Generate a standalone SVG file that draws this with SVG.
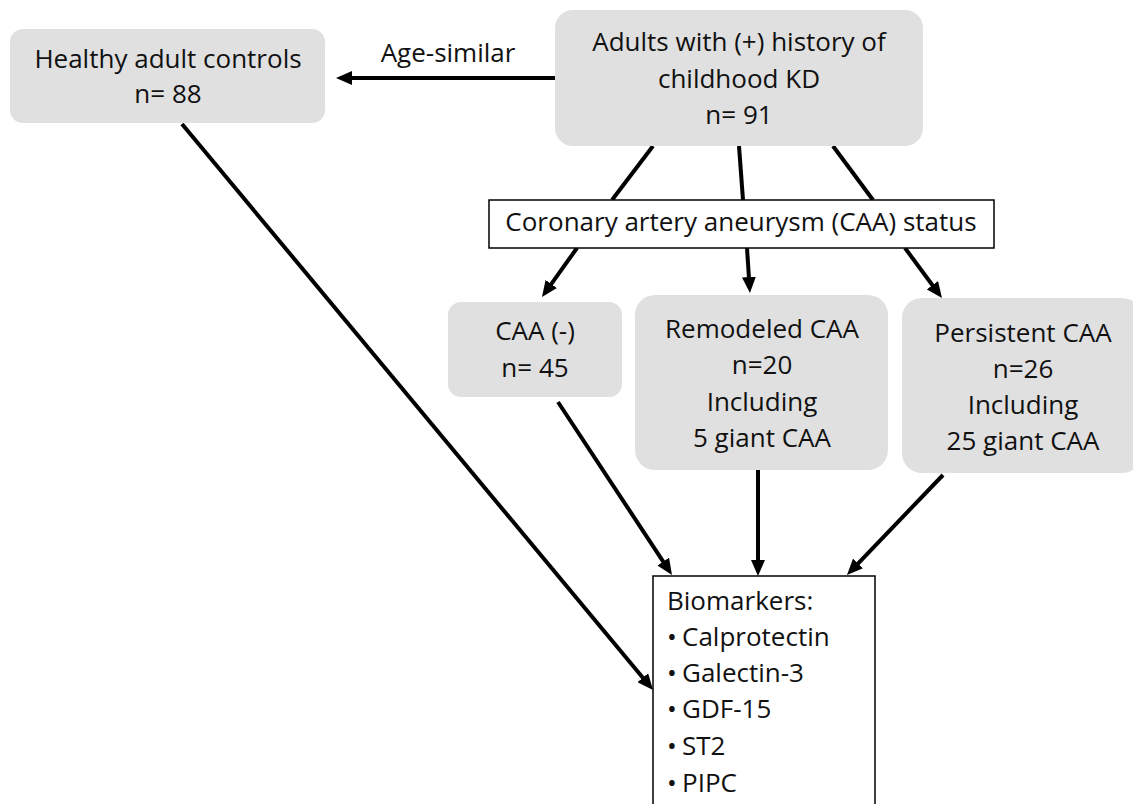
<svg xmlns="http://www.w3.org/2000/svg" width="1133" height="804" viewBox="0 0 1133 804">
<style>
  text { font-family: "Open Sans", "Liberation Sans", sans-serif; font-size: 26px; fill: #111; }
  .c { text-anchor: middle; }
  .g { fill: #e0e0e0; stroke: none; }
  .w { fill: #ffffff; stroke: #000; stroke-width: 1.5; }
  .ln { stroke: #000; stroke-width: 4; fill: none; }
  .ar { marker-end: url(#ah); }
</style>
<defs>
  <marker id="ah" markerUnits="userSpaceOnUse" markerWidth="16" markerHeight="14" refX="6" refY="7" orient="auto">
    <path d="M0,0 L16,7 L0,14 z" fill="#000"/>
  </marker>
</defs>
<rect width="1133" height="804" fill="#fff"/>

<g id="connectors">
  <line class="ln ar" x1="555" y1="78" x2="346" y2="78"/>
  <line class="ln" x1="653" y1="146" x2="612" y2="200"/>
  <line class="ln" x1="739" y1="146" x2="743" y2="200"/>
  <line class="ln" x1="833" y1="146" x2="873" y2="200"/>
  <line class="ln ar" x1="577" y1="248" x2="547.8" y2="288.9"/>
  <line class="ln ar" x1="747" y1="248" x2="749.3" y2="283"/>
  <line class="ln ar" x1="905" y1="248" x2="936" y2="290"/>
  <line class="ln ar" x1="558" y1="402" x2="666.5" y2="566.6"/>
  <line class="ln ar" x1="758" y1="470" x2="758" y2="566"/>
  <line class="ln ar" x1="943" y1="475" x2="853.9" y2="567.8"/>
  <line class="ln ar" x1="182" y1="124" x2="646.6" y2="682.3"/>
</g>
<text x="448" y="62" class="c">Age-similar</text>

<g id="healthy">
  <rect class="g" x="10" y="29" width="315" height="94" rx="13"/>
  <text x="168" y="68" class="c">Healthy adult controls</text>
  <text x="168" y="103" class="c">n= 88</text>
</g>

<g id="kd">
  <rect class="g" x="555" y="10" width="368" height="136" rx="18"/>
  <text x="739" y="51" class="c">Adults with (+) history of</text>
  <text x="739" y="88" class="c">childhood KD</text>
  <text x="739" y="124" class="c">n= 91</text>
</g>

<g id="caa-status">
  <rect class="w" x="489" y="200" width="505" height="48"/>
  <text x="741" y="231" class="c">Coronary artery aneurysm (CAA) status</text>
</g>

<g id="caa-neg">
  <rect class="g" x="448" y="302" width="174" height="95" rx="13"/>
  <text x="535" y="340" class="c">CAA (-)</text>
  <text x="535" y="377" class="c">n= 45</text>
</g>

<g id="remodeled">
  <rect class="g" x="635" y="295" width="253" height="175" rx="20"/>
  <text x="762" y="338" class="c">Remodeled CAA</text>
  <text x="762" y="374" class="c">n=20</text>
  <text x="762" y="411" class="c">Including</text>
  <text x="762" y="447" class="c">5 giant CAA</text>
</g>

<g id="persistent">
  <rect class="g" x="902" y="298" width="240" height="175" rx="20"/>
  <text x="1023" y="342" class="c">Persistent CAA</text>
  <text x="1023" y="378" class="c">n=26</text>
  <text x="1023" y="414" class="c">Including</text>
  <text x="1023" y="450" class="c">25 giant CAA</text>
</g>

<g id="biomarkers">
  <rect class="w" x="653" y="576" width="222" height="240"/>
  <text x="667" y="610">Biomarkers:</text>
  <text x="667" y="646">•</text><text x="682" y="646">Calprotectin</text>
  <text x="667" y="682">•</text><text x="682" y="682">Galectin-3</text>
  <text x="667" y="718">•</text><text x="682" y="718">GDF-15</text>
  <text x="667" y="755">•</text><text x="682" y="755">ST2</text>
  <text x="667" y="792">•</text><text x="682" y="792">PIPC</text>
</g>
</svg>
